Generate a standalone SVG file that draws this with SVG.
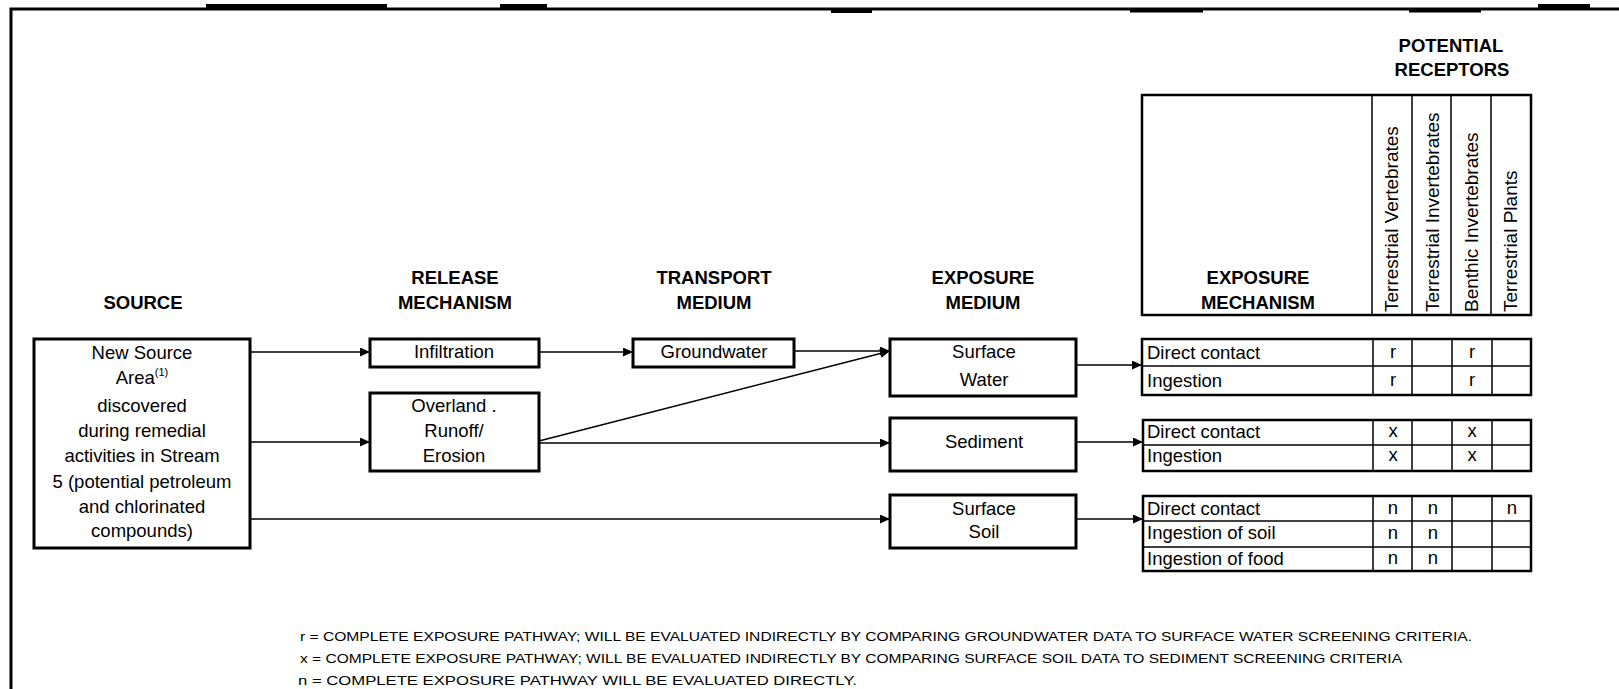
<svg xmlns="http://www.w3.org/2000/svg" width="1619" height="689" viewBox="0 0 1619 689">
<style>
text{font-family:"Liberation Sans",Arial,sans-serif;fill:#000}
.h{font-size:18.5px;font-weight:bold;text-anchor:middle}
.t{font-size:18.5px;text-anchor:middle}
.l{font-size:18.5px}
.v{font-size:19px}
.f{font-size:12px}
.box{fill:#fff;stroke:#000;stroke-width:3}
.tb{fill:none;stroke:#000;stroke-width:2.5}
.ln{stroke:#000;stroke-width:1.5;fill:none}
.c{stroke:#000;stroke-width:1.5;fill:none;marker-end:url(#ah)}
</style>
<defs>
<marker id="ah" markerUnits="userSpaceOnUse" markerWidth="11" markerHeight="9" refX="10" refY="4.5" orient="auto">
<path d="M0,0 L10,4.5 L0,9 Z" fill="#000"/>
</marker>
</defs>
<rect width="1619" height="689" fill="#fff"/>
<g id="frame">
<path d="M11,689 V9 H1619" fill="none" stroke="#000" stroke-width="3"/>
<rect x="206" y="4" width="181" height="4"/>
<rect x="500" y="4" width="47" height="4"/>
<rect x="831" y="10" width="41" height="3"/>
<rect x="1130" y="10" width="73" height="2.5"/>
<rect x="1409" y="10" width="72" height="2.5"/>
<rect x="1538" y="4" width="52" height="4"/>
</g>
<g id="headings">
<text class="h" x="143" y="309">SOURCE</text>
<text class="h" x="455" y="284">RELEASE</text>
<text class="h" x="455" y="309">MECHANISM</text>
<text class="h" x="714" y="284">TRANSPORT</text>
<text class="h" x="714" y="309">MEDIUM</text>
<text class="h" x="983" y="284">EXPOSURE</text>
<text class="h" x="983" y="309">MEDIUM</text>
<text class="h" x="1451" y="52">POTENTIAL</text>
<text class="h" x="1452" y="76">RECEPTORS</text>
</g>
<g id="source">
<rect class="box" x="34" y="339" width="216" height="209"/>
<text class="t" x="142" y="359">New Source</text>
<text class="t" x="142" y="384">Area<tspan font-size="11" dy="-8">(1)</tspan></text>
<text class="t" x="142" y="412">discovered</text>
<text class="t" x="142" y="437">during remedial</text>
<text class="t" x="142" y="462">activities in Stream</text>
<text class="t" x="142" y="488">5 (potential petroleum</text>
<text class="t" x="142" y="513">and chlorinated</text>
<text class="t" x="142" y="537">compounds)</text>
</g>
<g id="infiltration">
<rect class="box" x="370" y="339" width="169" height="28"/>
<text class="t" x="454" y="358">Infiltration</text>
</g>
<g id="overland">
<rect class="box" x="370" y="393" width="169" height="78"/>
<text class="t" x="454" y="412">Overland .</text>
<text class="t" x="454" y="437">Runoff/</text>
<text class="t" x="454" y="462">Erosion</text>
</g>
<g id="groundwater">
<rect class="box" x="633" y="339" width="161" height="28"/>
<text class="t" x="714" y="358">Groundwater</text>
</g>
<g id="surface-water">
<rect class="box" x="890" y="339" width="186" height="57"/>
<text class="t" x="984" y="358">Surface</text>
<text class="t" x="984" y="386">Water</text>
</g>
<g id="sediment">
<rect class="box" x="890" y="418" width="186" height="53"/>
<text class="t" x="984" y="448">Sediment</text>
</g>
<g id="surface-soil">
<rect class="box" x="890" y="495" width="186" height="53"/>
<text class="t" x="984" y="515">Surface</text>
<text class="t" x="984" y="538">Soil</text>
</g>
<g id="receptor-header">
<rect class="tb" x="1142" y="95" width="389" height="220"/>
<path class="ln" d="M1372,95 V315 M1412,95 V315 M1451,95 V315 M1491,95 V315"/>
<text class="h" x="1258" y="284">EXPOSURE</text>
<text class="h" x="1258" y="309">MECHANISM</text>
<text class="v" transform="translate(1398,312) rotate(-90)">Terrestrial Vertebrates</text>
<text class="v" transform="translate(1439,312) rotate(-90)">Terrestrial Invertebrates</text>
<text class="v" transform="translate(1478,312) rotate(-90)">Benthic Invertebrates</text>
<text class="v" transform="translate(1517,312) rotate(-90)">Terrestrial Plants</text>
</g>
<g id="table-water">
<rect class="tb" x="1142" y="339" width="389" height="56"/>
<path class="ln" d="M1142,366 H1531 M1373,339 V395 M1412,339 V395 M1452,339 V395 M1492,339 V395"/>
<text class="l" x="1147" y="359">Direct contact</text>
<text class="l" x="1147" y="387">Ingestion</text>
<text class="t" x="1393" y="358">r</text>
<text class="t" x="1472" y="358">r</text>
<text class="t" x="1393" y="386">r</text>
<text class="t" x="1472" y="386">r</text>
</g>
<g id="table-sediment">
<rect class="tb" x="1143" y="420" width="388" height="51"/>
<path class="ln" d="M1143,445 H1531 M1373,420 V471 M1412,420 V471 M1452,420 V471 M1492,420 V471"/>
<text class="l" x="1147" y="438">Direct contact</text>
<text class="l" x="1147" y="462">Ingestion</text>
<text class="t" x="1393" y="437">x</text>
<text class="t" x="1472" y="437">x</text>
<text class="t" x="1393" y="461">x</text>
<text class="t" x="1472" y="461">x</text>
</g>
<g id="table-soil">
<rect class="tb" x="1143" y="496" width="388" height="75"/>
<path class="ln" d="M1143,521 H1531 M1143,547 H1531 M1373,496 V571 M1412,496 V571 M1452,496 V571 M1492,496 V571"/>
<text class="l" x="1147" y="515">Direct contact</text>
<text class="l" x="1147" y="539">Ingestion of soil</text>
<text class="l" x="1147" y="565">Ingestion of food</text>
<text class="t" x="1393" y="514">n</text>
<text class="t" x="1433" y="514">n</text>
<text class="t" x="1512" y="514">n</text>
<text class="t" x="1393" y="539">n</text>
<text class="t" x="1433" y="539">n</text>
<text class="t" x="1393" y="564">n</text>
<text class="t" x="1433" y="564">n</text>
</g>
<g id="connectors">
<path class="c" d="M250,352 H370"/>
<path class="c" d="M250,442 H370"/>
<path class="c" d="M250,519 H890"/>
<path class="c" d="M539,352 H633"/>
<path class="c" d="M794,351 H890"/>
<path class="c" d="M539,441 L890,351"/>
<path class="c" d="M539,443 H890"/>
<path class="c" d="M1076,365 H1142" stroke-width="2.5"/>
<path class="c" d="M1076,442 H1143"/>
<path class="c" d="M1076,519 H1143"/>
</g>
<g id="legend">
<text class="f" x="300" y="641" textLength="1172" lengthAdjust="spacingAndGlyphs">r = COMPLETE EXPOSURE PATHWAY; WILL BE EVALUATED INDIRECTLY BY COMPARING GROUNDWATER DATA TO SURFACE WATER SCREENING CRITERIA.</text>
<text class="f" x="300" y="663" textLength="1102" lengthAdjust="spacingAndGlyphs">x = COMPLETE EXPOSURE PATHWAY; WILL BE EVALUATED INDIRECTLY BY COMPARING SURFACE SOIL DATA TO SEDIMENT SCREENING CRITERIA</text>
<text class="f" x="298" y="685" textLength="559" lengthAdjust="spacingAndGlyphs">n  = COMPLETE EXPOSURE PATHWAY WILL BE EVALUATED DIRECTLY.</text>
</g>
</svg>
